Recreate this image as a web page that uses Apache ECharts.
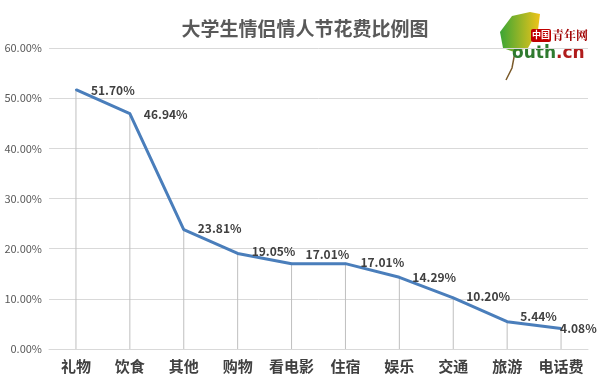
<!DOCTYPE html>
<html><head><meta charset="utf-8">
<script src="https://cdn.jsdelivr.net/npm/echarts@6/dist/echarts.min.js"></script>
<style>html,body{margin:0;padding:0;background:#fff}#c{width:600px;height:390px}</style>
</head><body><div id="c"></div>
<script>
var categories = ['礼物','饮食','其他','购物','看电影','住宿','娱乐','交通','旅游','电话费'];
var values = [51.70, 46.94, 23.81, 19.05, 17.01, 17.01, 14.29, 10.20, 5.44, 4.08];
var yTicks = [0, 10, 20, 30, 40, 50, 60];
var labelOffsets = [[1,1],[0,1],[0,-1],[0,-2],[0,-9],[1,-1],[-1,0],[-1,-1],[-1,-5],[-15,0]];

var chart = echarts.init(document.getElementById('c'));
var font = '"Microsoft YaHei","Noto Sans CJK SC","Noto Sans",sans-serif';
chart.setOption({
  animation: false,
  backgroundColor: '#fff',
  title: {
    text: '大学生情侣情人节花费比例图', left: 300, top: 14, textAlign: 'center',
    textStyle: {fontSize: 19, fontWeight: 'bold', color: '#595959', fontFamily: font}
  },
  grid: {left: 49, right: 12, top: 48, bottom: 41},
  xAxis: {
    type: 'category', data: categories,
    axisLine: {lineStyle: {color: '#d9d9d9'}},
    axisTick: {show: false},
    axisLabel: {interval: 0, fontSize: 15, color: '#404040', fontWeight: 'bold', margin: 10, fontFamily: font}
  },
  yAxis: {
    type: 'value', min: yTicks[0], max: yTicks[yTicks.length-1], interval: 10,
    axisLine: {show: false}, axisTick: {show: false},
    splitLine: {lineStyle: {color: '#d9d9d9'}},
    axisLabel: {fontSize: 11, color: '#595959', margin: 7, fontFamily: font,
      formatter: function(v){ return v.toFixed(2) + '%'; }}
  },
  series: [
    {
      type: 'bar', data: values, barWidth: 1, silent: true,
      itemStyle: {color: '#bfbfbf'}, z: 1
    },
    {
      type: 'line', data: values.map(function(v, i){
        return {value: v, label: {offset: labelOffsets[i]}};
      }),
      showSymbol: true, symbol: 'circle', symbolSize: 2, z: 3,
      itemStyle: {color: '#4a7ebb'},
      lineStyle: {color: '#4a7ebb', width: 3},
      label: {
        show: true, position: 'right', distance: 13,
        fontSize: 12, fontWeight: 'bold', color: '#404040', fontFamily: font,
        formatter: function(p){ return p.value.toFixed(2) + '%'; }
      }
    }
  ],
  graphic: [
    {type: 'polygon', shape: {points: [[500,32],[512,16],[530,12],[540,14],[538,30],[528,48],[514,52],[503,48]]},
     style: {fill: new echarts.graphic.LinearGradient(0,0,1,0,[{offset:0,color:'#3aa535'},{offset:1,color:'#f0c419'}])}},
    {type: 'polyline', shape: {points: [[515,52],[512,68],[506,80]]}, style: {stroke: '#7a5a2a', lineWidth: 1.5}},
    {type: 'rect', shape: {x: 531, y: 29, width: 20, height: 13, r: 2}, style: {fill: '#c00000'}},
    {type: 'text', style: {text: '中国', x: 532, y: 30, fill: '#fff', fontSize: 9, fontWeight: 'bold', fontFamily: font}},
    {type: 'text', style: {text: '青年网', x: 552, y: 29, fill: '#a00000', fontSize: 12, fontWeight: 'bold', fontFamily: '"Noto Serif CJK SC","Noto Sans CJK SC",serif'}},
    {type: 'text', style: {text: '{g|outh}{r|.cn}', x: 512, y: 45,
      rich: {g: {fill: '#2f7a2f', fontSize: 17, fontWeight: 'bold', fontFamily: '"DejaVu Sans",sans-serif'},
             r: {fill: '#b01c1c', fontSize: 17, fontWeight: 'bold', fontFamily: '"DejaVu Sans",sans-serif'}}}}
  ]
});
</script></body></html>
